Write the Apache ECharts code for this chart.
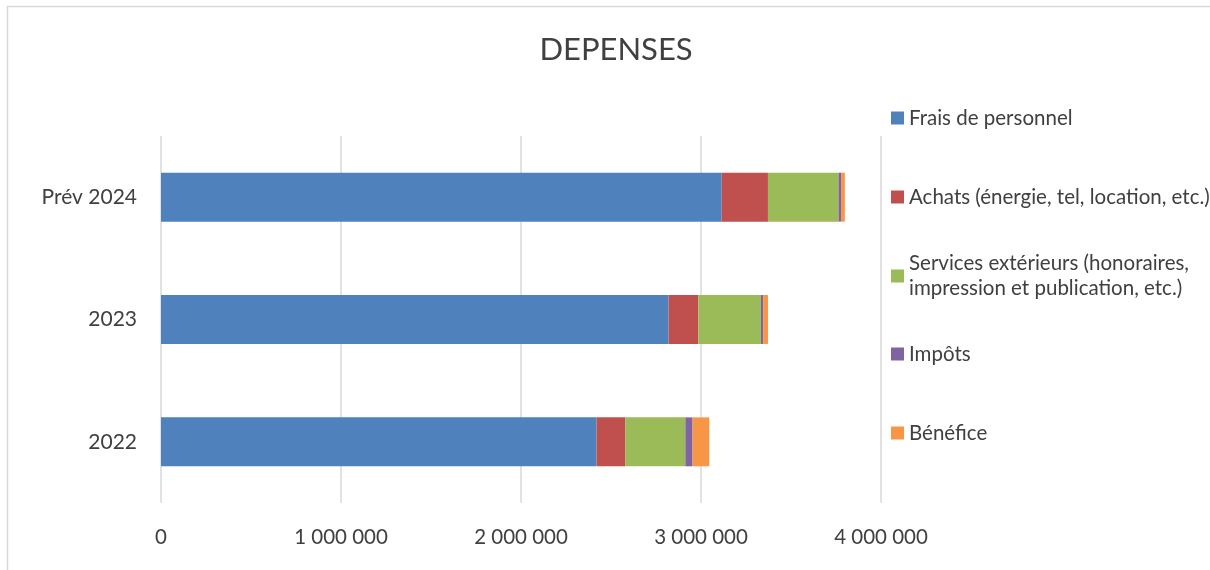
<!DOCTYPE html>
<html lang="fr">
<head>
<meta charset="utf-8">
<title>DEPENSES</title>
<script src="https://cdn.jsdelivr.net/npm/echarts@6/dist/echarts.min.js"></script>
<style>
  html, body { margin: 0; padding: 0; background: #fff; overflow: hidden; }
  #chart { width: 1210px; height: 570px; }
</style>
</head>
<body>
<div id="chart"></div>
<script type="text/javascript">
// années (de bas en haut)
var annees = ['2022', '2023', 'Prév 2024'];
var nomsSeries = [
  'Frais de personnel',
  'Achats (énergie, tel, location, etc.)',
  'Services extérieurs (honoraires, impression et publication, etc.)',
  'Impôts',
  'Bénéfice'
];
var fraisPersonnel = [2420000, 2820000, 3115000];
var achats = [160000, 165000, 257000];
var servicesExt = [333000, 348000, 392000];
var impots = [40000, 13000, 14000];
var benefice = [93000, 26000, 21000];
var ticksX = [0, 1000000, 2000000, 3000000, 4000000];

var couleurs = ['#4F81BD', '#C0504D', '#9BBB59', '#8064A2', '#F79646'];
var valeurs = [fraisPersonnel, achats, servicesExt, impots, benefice];
var police = 'Lato';

var chart = echarts.init(document.getElementById('chart'));

var series = [];
for (var i = 0; i < nomsSeries.length; i++) {
  series.push({
    name: nomsSeries[i],
    type: 'bar',
    stack: 'total',
    barWidth: '40%',
    data: valeurs[i],
    itemStyle: { color: couleurs[i] }
  });
}

// une légende par entrée, espacement comme dans l'original
var legendeY = [118, 197, 276, 354, 433];
var legendes = [];
for (var j = 0; j < nomsSeries.length; j++) {
  var multi = (j == 2);
  legendes.push({
    data: [nomsSeries[j]],
    left: 891,
    top: multi ? legendeY[j] - 37.5 : legendeY[j] - 12.5,
    padding: 0,
    itemWidth: 13,
    itemHeight: 13,
    itemGap: 5,
    icon: 'rect',
    selectedMode: false,
    formatter: function (n) {
      if (n == nomsSeries[2]) return 'Services extérieurs (honoraires,\nimpression et publication, etc.)';
      return n;
    },
    textStyle: {
      color: '#404040',
      fontFamily: police,
      fontSize: 20.5,
      lineHeight: 25,
      padding: multi ? [25, 0, 0, 0] : 0
    }
  });
}

var option = {
  animation: false,
  title: {
    text: 'DEPENSES',
    left: 611,
    textAlign: 'center',
    top: 29,
    textStyle: { color: '#404040', fontFamily: police, fontSize: 31, fontWeight: 'normal' }
  },
  legend: legendes,
  grid: { left: 161, right: 329, top: 136, bottom: 67 },
  xAxis: {
    type: 'value',
    min: 0,
    max: 4000000,
    interval: 1000000,
    axisLine: { show: false },
    axisTick: { show: false },
    splitLine: { lineStyle: { color: '#d9d9d9', width: 1.5 } },
    axisLabel: {
      margin: 24,
      color: '#404040',
      fontFamily: police,
      fontSize: 20.5,
      formatter: function (v) {
        if (ticksX.indexOf(v) < 0) return '';
        return String(v).replace(/\B(?=(\d{3})+(?!\d))/g, ' ');
      }
    }
  },
  yAxis: {
    type: 'category',
    data: annees,
    axisLine: { show: false },
    axisTick: { show: false },
    axisLabel: { margin: 24, color: '#404040', fontFamily: police, fontSize: 21 }
  },
  graphic: [{
    type: 'rect',
    left: 5,
    top: 4,
    shape: { width: 1300, height: 700 },
    style: { fill: 'none', stroke: '#d9d9d9', lineWidth: 1.5 },
    silent: true
  }],
  series: series
};

chart.setOption(option);
</script>
</body>
</html>
